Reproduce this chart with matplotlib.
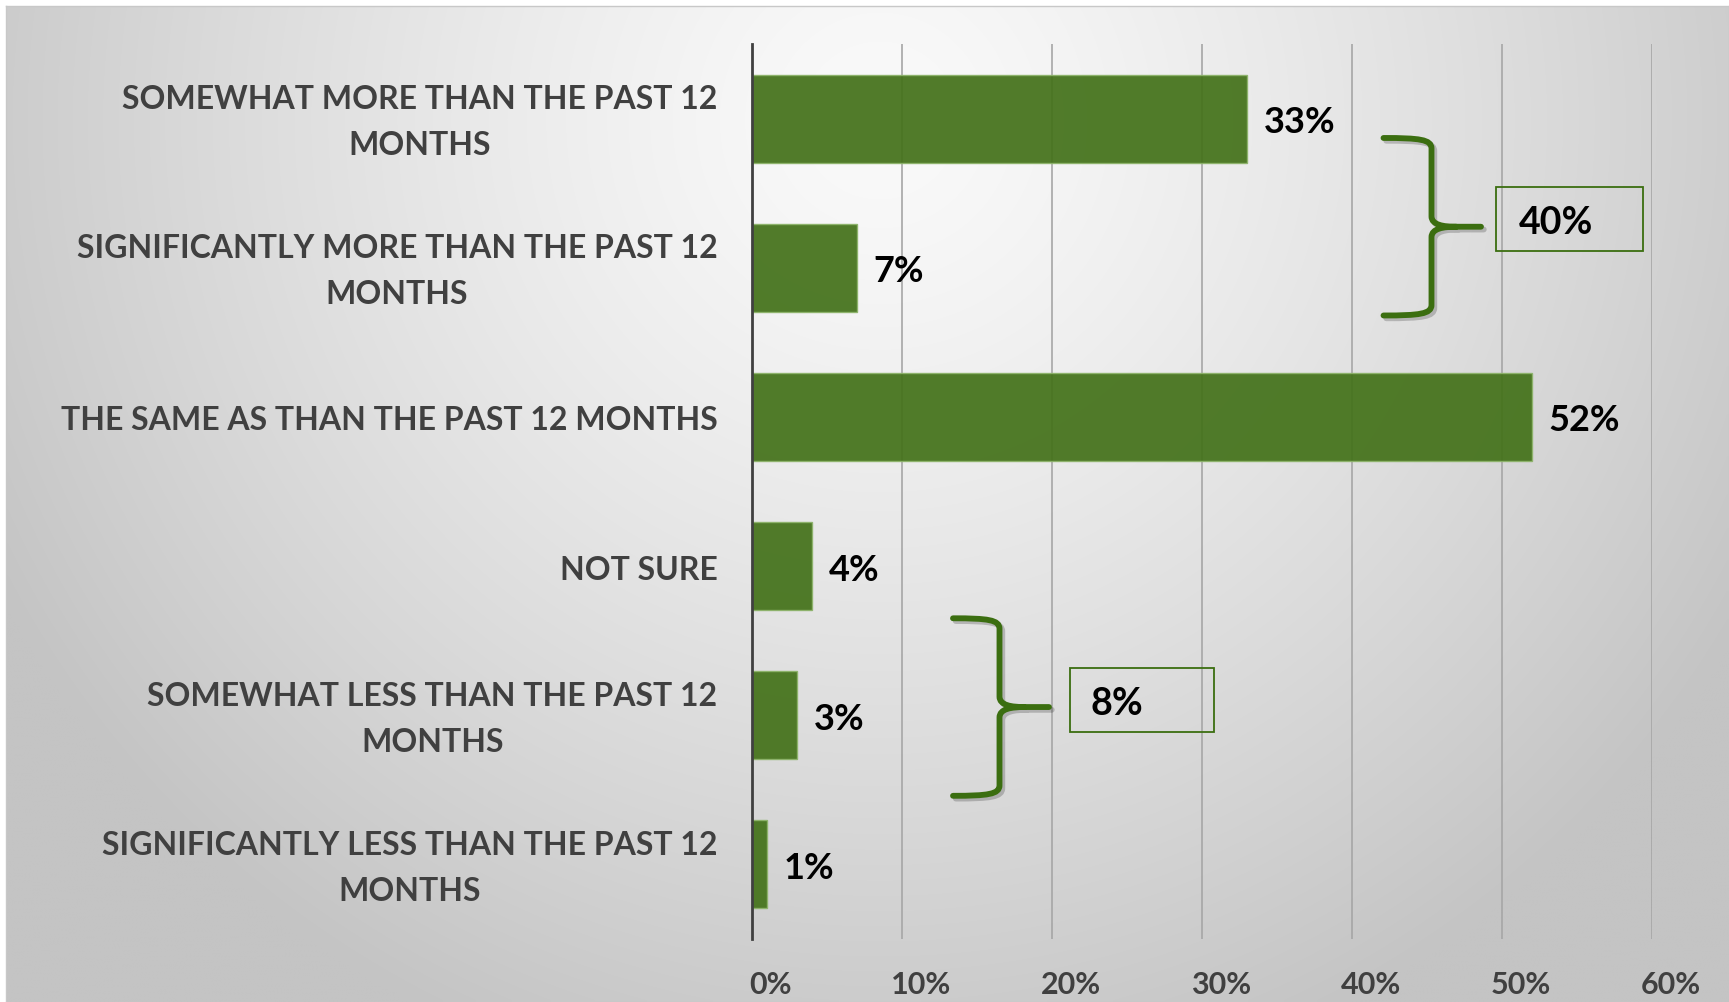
import numpy as np
import matplotlib
matplotlib.use("Agg")
import matplotlib.pyplot as plt
import matplotlib.transforms as mtransforms
from matplotlib.path import Path
from matplotlib.patches import PathPatch, Rectangle
import matplotlib.patheffects as pe

# survey answers, top to bottom
categories = [
    "SOMEWHAT MORE THAN THE PAST 12\nMONTHS",
    "SIGNIFICANTLY MORE THAN THE PAST 12\nMONTHS",
    "THE SAME AS THAN THE PAST 12 MONTHS",
    "NOT SURE",
    "SOMEWHAT LESS THAN THE PAST 12\nMONTHS",
    "SIGNIFICANTLY LESS THAN THE PAST 12\nMONTHS",
]
values = [33, 7, 52, 4, 3, 1]
xticks = [0, 10, 20, 30, 40, 50, 60]

# grouped totals shown next to the braces
more_total = 40
less_total = 8

GREEN = "#44721a"
BRACE = "#3b6e10"
LABEL_GREY = "#404040"
FONT = "Lato"

W, H = 1729, 1003
fig = plt.figure(figsize=(W / 100, H / 100), dpi=100)
fig.patch.set_facecolor("white")

# soft radial grey background
bg = fig.add_axes([6 / W, 0, 1 - 6 / W, 1 - 7 / H], zorder=-5)
gx, gy = np.meshgrid(np.linspace(6, W, 430), np.linspace(7, H, 250))
d = np.sqrt((gx - 880) ** 2 + (gy - 120) ** 2)
t = np.clip(d / 1000.0, 0, 1) ** 1.3
shade = 250 - 54 * t
img = np.dstack([shade, shade, shade]) / 255.0
bg.imshow(img, aspect="auto", interpolation="bilinear", extent=[0, 1, 0, 1])
bg.set_xlim(0, 1)
bg.set_ylim(0, 1)
bg.set_xticks([])
bg.set_yticks([])
for s in bg.spines.values():
    s.set_color("#c8c8c8")
    s.set_linewidth(1)

ax = fig.add_axes([752 / W, 1 - 940 / H, 900 / W, 895 / H])
ax.set_facecolor("none")

y = np.arange(len(categories))
ax.barh(y, values, height=0.59, color=GREEN, alpha=0.93,
        edgecolor="#8db36a", linewidth=1, zorder=3)

for yi, v in zip(y, values):
    ax.text(v + 1.1, yi + 0.02, f"{v}%", va="center", ha="left",
            fontsize=26, fontweight="bold", family=FONT, color="black", zorder=4)

ax.set_xlim(0, 60)
ax.set_ylim(len(categories) - 0.5, -0.5)
ax.set_xticks(xticks)
ax.set_xticklabels([f"{v}%" for v in xticks], fontsize=22, fontweight="bold",
                   family=FONT, color=LABEL_GREY)
ax.set_yticks(y)
ax.set_yticklabels(categories, fontsize=23, fontweight="bold", family=FONT,
                   color=LABEL_GREY, ha="right", va="center",
                   multialignment="center", linespacing=1.7)
ax.tick_params(axis="x", length=0, pad=22)
ax.tick_params(axis="y", length=0, pad=25)
# x labels sit a little right of their gridlines, y labels a touch lower
xshift = mtransforms.ScaledTranslation(0.19, 0, fig.dpi_scale_trans)
for lab in ax.get_xticklabels():
    lab.set_transform(lab.get_transform() + xshift)
yshift = mtransforms.ScaledTranslation(0, -0.03, fig.dpi_scale_trans)
for lab in ax.get_yticklabels():
    lab.set_transform(lab.get_transform() + yshift)
ax.grid(axis="x", color="#a6a6a6", linewidth=1.2, zorder=0)
for name in ["top", "right", "bottom"]:
    ax.spines[name].set_visible(False)
ax.spines["left"].set_color("#404040")
ax.spines["left"].set_linewidth(2)
ax.spines["left"].set_zorder(5)


def brace(ax, x0, x1, x2, y0, y1, r=0.07, r2=0.07):
    ym = (y0 + y1) / 2
    verts = [
        (x0, y0),
        (x0 + 0.75 * (x1 - x0), y0), (x1, y0 + 0.01), (x1, y0 + r),
        (x1, ym - r2),
        (x1, ym - r2 * 0.15), (x1 + 0.25 * (x2 - x1), ym), (x1 + 0.5 * (x2 - x1), ym),
        (x2, ym),
        (x1 + 0.5 * (x2 - x1), ym),
        (x1 + 0.25 * (x2 - x1), ym), (x1, ym + r2 * 0.15), (x1, ym + r2),
        (x1, y1 - r),
        (x1, y1 - 0.01), (x0 + 0.75 * (x1 - x0), y1), (x0, y1),
    ]
    codes = [Path.MOVETO,
             Path.CURVE4, Path.CURVE4, Path.CURVE4,
             Path.LINETO,
             Path.CURVE4, Path.CURVE4, Path.CURVE4,
             Path.LINETO,
             Path.MOVETO,
             Path.CURVE4, Path.CURVE4, Path.CURVE4,
             Path.LINETO,
             Path.CURVE4, Path.CURVE4, Path.CURVE4]
    p = PathPatch(Path(verts, codes), fill=False, edgecolor=BRACE, linewidth=4.2,
                  capstyle="round", joinstyle="round", zorder=6, clip_on=False)
    p.set_path_effects([pe.SimpleLineShadow(offset=(2, -2), shadow_color="black",
                                            alpha=0.2),
                        pe.Normal()])
    ax.add_patch(p)


def total_box(ax, x0, x1, y0, y1, text, tx):
    ax.add_patch(Rectangle((x0, y0), x1 - x0, y1 - y0, fill=False,
                           edgecolor=BRACE, linewidth=1.3, zorder=6, clip_on=False))
    ax.text(tx, (y0 + y1) / 2 + 0.02, text, va="center", ha="left", fontsize=27,
            fontweight="bold", family=FONT, color="black", zorder=7)


brace(ax, 42.1, 45.3, 48.6, 0.13, 1.32)
total_box(ax, 49.6, 59.4, 0.46, 0.89, f"{more_total}%", 51.1)

brace(ax, 13.4, 16.5, 19.8, 3.35, 4.54)
total_box(ax, 21.2, 30.8, 3.68, 4.11, f"{less_total}%", 22.6)

fig.savefig("out.png", dpi=100)
